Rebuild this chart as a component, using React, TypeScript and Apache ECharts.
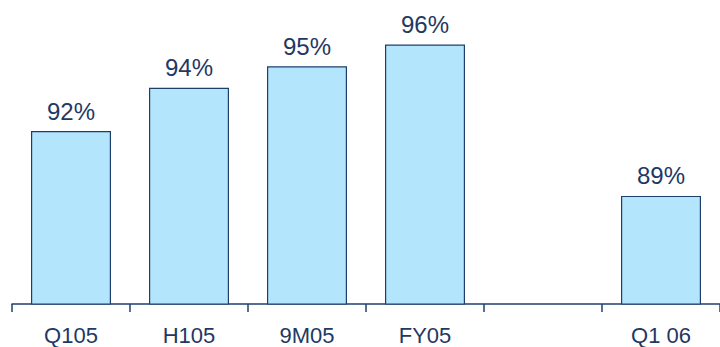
import React, { useEffect, useRef } from "react";
import * as echarts from "echarts";

const categories = ["Q105", "H105", "9M05", "FY05", "", "Q1 06"];
const values: (number | null)[] = [92, 94, 95, 96, null, 89];

export default function App() {
  const ref = useRef<HTMLDivElement>(null);
  useEffect(() => {
    if (!ref.current) return;
    const chart = echarts.init(ref.current, undefined, { renderer: "svg" });
    chart.setOption({
      animation: false,
      grid: { left: 12, right: 0, top: 23, bottom: 43 },
      xAxis: {
        type: "category",
        data: categories,
        axisLine: { lineStyle: { color: "#1f3f6b", width: 1.5 } },
        axisTick: { show: true, length: 8, lineStyle: { color: "#1f3f6b", width: 1.5 } },
        axisLabel: {
          color: "#1f3864",
          fontSize: 22,
          fontFamily: "Liberation Sans, Arial, sans-serif",
          margin: 20,
        },
      },
      yAxis: {
        type: "value",
        min: 84,
        max: 97,
        show: false,
        splitLine: { show: false },
      },
      series: [
        {
          type: "bar",
          data: values,
          barWidth: 80,
          itemStyle: { color: "#b3e5fc", borderColor: "#1f3f6b", borderWidth: 1.2 },
          label: {
            show: true,
            position: "top",
            distance: 8,
            formatter: "{c}%",
            color: "#1f3864",
            fontSize: 24,
            fontFamily: "Liberation Sans, Arial, sans-serif",
          },
        },
      ],
    });
    return () => chart.dispose();
  }, []);
  return <div ref={ref} style={{ width: 720, height: 347, position: "absolute", left: 0, top: 0 }} />;
}
